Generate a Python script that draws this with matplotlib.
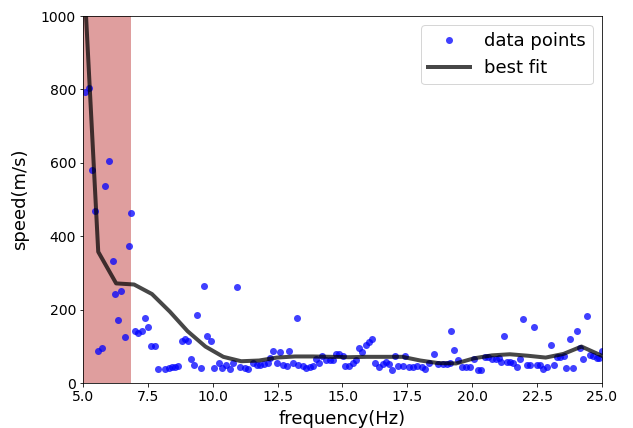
import numpy as np
import matplotlib
matplotlib.use("Agg")
import matplotlib.pyplot as plt

# measured points (frequency in Hz, phase speed in m/s)
freq = [5.08, 5.24, 5.36, 5.47, 5.59, 5.72, 5.84, 6.0, 6.14, 6.25, 6.36, 6.48,
        6.64, 6.76, 6.87, 7.0, 7.13, 7.26, 7.39, 7.52, 7.64, 7.77,
        7.88, 8.17, 8.3, 8.43, 8.55, 8.65, 8.8, 8.93, 9.05, 9.16, 9.28, 9.39,
        9.55, 9.67, 9.79, 9.92, 10.05, 10.24, 10.34, 10.53, 10.66, 10.79, 10.94,
        11.05, 11.24, 11.37, 11.56, 11.69, 11.82, 11.97, 12.12, 12.21, 12.34,
        12.46, 12.59, 12.72, 12.85, 12.95, 13.1, 13.23, 13.3,
        13.47, 13.59, 13.75, 13.85, 13.98, 14.11, 14.22, 14.36, 14.52, 14.65,
        14.75, 14.88, 15.01, 15.1, 15.26, 15.39, 15.52, 15.62, 15.75, 15.91,
        16.03, 16.15, 16.25, 16.42, 16.55, 16.68, 16.8, 16.91, 17.02, 17.15,
        17.32, 17.42, 17.58, 17.7, 17.86, 18.05, 18.18, 18.35, 18.54, 18.69,
        18.86, 19.01, 19.14, 19.18, 19.31, 19.46, 19.59, 19.76, 19.91, 20.07,
        20.21, 20.34, 20.49, 20.62, 20.75, 20.92, 21.05, 21.1, 21.22, 21.33,
        21.45, 21.58, 21.74, 21.86, 21.97, 22.1, 22.22, 22.38, 22.48, 22.61,
        22.74, 22.87, 23.02, 23.15, 23.28, 23.4, 23.53, 23.61, 23.77, 23.89,
        24.02, 24.15, 24.26, 24.42, 24.54, 24.67, 24.8, 24.9, 24.99]
speed = [792, 803, 582, 469, 87, 95, 537, 605, 333, 244, 172, 251,
         126, 373, 464, 141, 138, 141, 177, 152, 102, 102,
         40, 40, 42, 43, 44, 46, 115, 121, 115, 65, 50, 186,
         42, 265, 130, 115, 42, 56, 42, 49, 40, 55, 262,
         44, 42, 39, 54, 49, 49, 52, 54, 70, 87,
         54, 85, 49, 47, 87, 54, 177, 49,
         48, 42, 44, 48, 65, 54, 75, 64, 64, 64,
         81, 81, 75, 48, 48, 54, 63, 95, 86, 104,
         112, 121, 54, 44, 52, 58, 52, 35, 75, 48,
         48, 74, 44, 44, 46, 44, 38, 54, 79, 52,
         52, 52, 54, 141, 90, 63, 44, 44, 44, 67,
         35, 35, 72, 72, 67, 67, 70, 59, 130, 58,
         58, 55, 44, 65, 174, 50, 50, 152, 49, 49,
         40, 44, 104, 50, 72, 72, 75, 42, 121, 42,
         143, 97, 65, 183, 76, 74, 70, 70, 88]

# fitted dispersion curve
fit_freq = [4.9, 5.59, 6.28, 6.97, 7.66, 8.35, 9.03, 9.72, 10.41, 11.1, 11.79,
            12.48, 13.17, 13.86, 14.55, 15.24, 15.93, 16.62, 17.31, 18.0, 18.69,
            19.38, 20.07, 20.76, 21.45, 22.14, 22.83, 23.52, 24.21, 24.9, 25.59]
fit_speed = [1300, 358, 272, 269, 243, 195, 142, 100, 72, 60, 62,
             70, 73, 73, 72, 71, 72, 72, 72, 62, 55,
             54, 68, 76, 79, 75, 70, 80, 100, 78, 55]

# low-frequency band that is excluded
band = (5.0, 6.87)

fig = plt.figure(figsize=(633 / 72, 428 / 72), dpi=72)
ax = fig.add_axes([0.131, 0.1045, 0.82, 0.858])

ax.axvspan(band[0], band[1], color='#df9e9e', lw=0)
ax.plot(freq, speed, 'o', color='b', alpha=0.75, ms=7, mew=0, label='data points')
ax.plot(fit_freq, fit_speed, '-', color='k', alpha=0.72, lw=4, label='best fit')

ax.set_xlim(5, 25)
ax.set_ylim(0, 1000)
ax.set_xticks([5, 7.5, 10, 12.5, 15, 17.5, 20, 22.5, 25])
ax.set_yticks([0, 200, 400, 600, 800, 1000])
ax.tick_params(labelsize=14)
ax.set_xlabel('frequency(Hz)', fontsize=18, labelpad=6)
ax.set_ylabel('speed(m/s)', fontsize=18, labelpad=12)
ax.legend(loc='upper right', fontsize=18, numpoints=1, handlelength=2.3)

fig.savefig('out.png', dpi=72)
